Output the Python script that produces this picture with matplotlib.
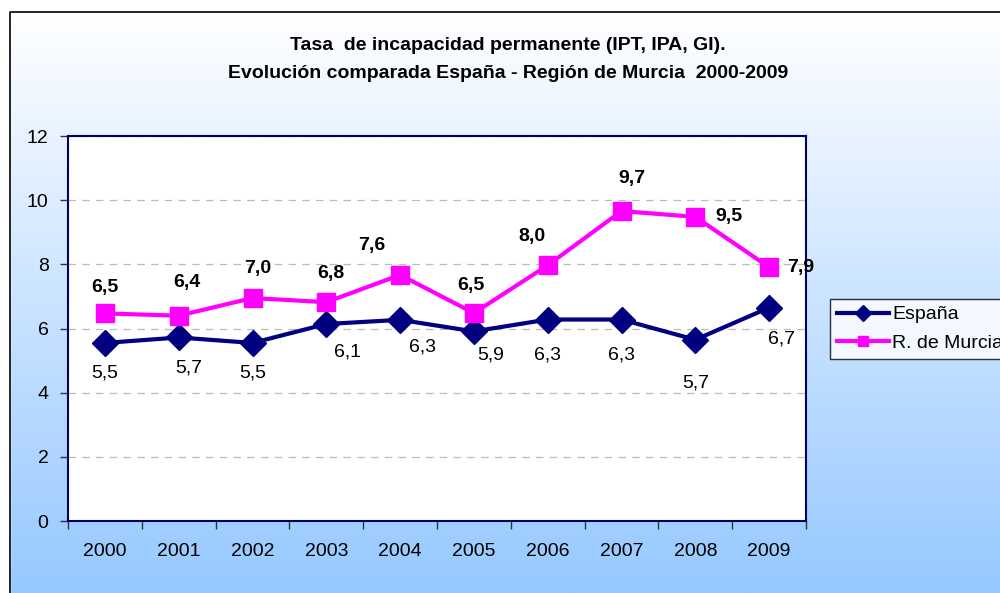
import numpy as np
import matplotlib
matplotlib.use("Agg")
import matplotlib.pyplot as plt
from matplotlib.patches import Rectangle
from matplotlib.colors import LinearSegmentedColormap

# ---------------------------------------------------------------------------
# Datos
# ---------------------------------------------------------------------------
anios = ["2000", "2001", "2002", "2003", "2004", "2005", "2006", "2007", "2008", "2009"]
espana = [5.55, 5.72, 5.55, 6.14, 6.27, 5.91, 6.28, 6.28, 5.65, 6.65]
murcia = [6.47, 6.40, 6.95, 6.82, 7.67, 6.48, 7.97, 9.66, 9.48, 7.91]
etiquetas_espana = ["5,5", "5,7", "5,5", "6,1", "6,3", "5,9", "6,3", "6,3", "5,7", "6,7"]
etiquetas_murcia = ["6,5", "6,4", "7,0", "6,8", "7,6", "6,5", "8,0", "9,7", "9,5", "7,9"]

# desplazamiento de cada etiqueta en píxeles (como en el original)
desp_espana = [(0, -30), (10, -31), (0, -30), (21, -28), (22, -27),
               (17, -24), (0, -35), (0, -35), (0, -43), (12, -31)]
desp_murcia = [(0, 26), (8, 33), (5, 30), (5, 29), (-28, 29),
               (-3, 28), (-16, 29), (10, 33), (34, 0), (32, 0)]

AZUL = "#000080"
MAGENTA = "#FF00FF"
MARCO = "#000066"
TAM = 14

plt.rcParams["font.family"] = ["Liberation Sans", "DejaVu Sans"]

fig = plt.figure(figsize=(10, 5.93), dpi=100)

# Fondo degradado (blanco arriba, azul claro abajo)
fondo = fig.add_axes([0, 0, 1, 1], zorder=-10)
cmap = LinearSegmentedColormap.from_list("fondo", ["#FFFFFF", "#96C8FF"])
grad = np.linspace(0, 1, 256).reshape(-1, 1)
fondo.imshow(grad, aspect="auto", cmap=cmap, extent=[0, 1, 0, 1 - 12 / 593],
             origin="upper")
fondo.add_patch(Rectangle((0, 0), 10 / 1000, 1, color="white", zorder=2))
fondo.add_patch(Rectangle((0, 1 - 12 / 593), 1, 12 / 593, color="white", zorder=2))
fondo.plot([10 / 1000, 10 / 1000, 1.0], [0, 1 - 12 / 593, 1 - 12 / 593],
           color="black", lw=1.2, zorder=3)
fondo.set_xlim(0, 1)
fondo.set_ylim(0, 1)
fondo.axis("off")

# Área del gráfico
ax = fig.add_axes([0.068, 72 / 593, 0.738, 385 / 593])
ax.set_facecolor("white")
x = np.arange(len(anios))

ax.plot(x, espana, color=AZUL, lw=3, marker="D", ms=13, label="España",
        zorder=3)
ax.plot(x, murcia, color=MAGENTA, lw=3, marker="s", ms=13,
        label="R. de Murcia", zorder=3)

for i in range(len(anios)):
    ax.annotate(etiquetas_espana[i], (x[i], espana[i]),
                xytext=desp_espana[i], textcoords="offset pixels",
                ha="center", va="center", fontsize=TAM, color="black")
    ax.annotate(etiquetas_murcia[i], (x[i], murcia[i]),
                xytext=desp_murcia[i], textcoords="offset pixels",
                ha="center", va="center", fontsize=TAM, fontweight="bold",
                color="black")

ax.set_xlim(-0.5, len(anios) - 0.5)
ax.set_ylim(0, 12)
ax.set_yticks(range(0, 13, 2))
ax.set_xticks(x)
ax.set_xticklabels(anios)
ax.set_xticks(np.arange(-0.5, len(anios), 1), minor=True)
ax.tick_params(axis="x", which="major", length=0, pad=16, labelsize=TAM)
ax.tick_params(axis="x", which="minor", length=6, width=1, color="#333333")
ax.tick_params(axis="y", length=6, width=1, color="#333333", pad=8,
               labelsize=TAM)

ax.yaxis.grid(True, linestyle=(0, (6, 5)), color="#BBBBBB", lw=0.9)
ax.set_axisbelow(True)
for lado in ["left", "top", "right", "bottom"]:
    ax.spines[lado].set_color(MARCO)
    ax.spines[lado].set_linewidth(1.5)

fig.text(0.508, 1 - 45 / 593, "Tasa  de incapacidad permanente (IPT, IPA, GI).",
         ha="center", va="center", fontsize=14, fontweight="bold")
fig.text(0.508, 1 - 73 / 593, "Evolución comparada España - Región de Murcia  2000-2009",
         ha="center", va="center", fontsize=14, fontweight="bold")

# La leyenda queda recortada por el borde derecho, como en el original
ley = fig.legend(loc="upper left", bbox_to_anchor=(0.830, 1 - 299 / 593),
                 fontsize=TAM, frameon=True, fancybox=False, handlelength=2.7,
                 handletextpad=0.15, borderpad=0.35, labelspacing=0.55,
                 markerscale=0.6, borderaxespad=0)
ley.get_frame().set_edgecolor("black")
ley.get_frame().set_linewidth(1)

fig.savefig("out.png", dpi=100)
